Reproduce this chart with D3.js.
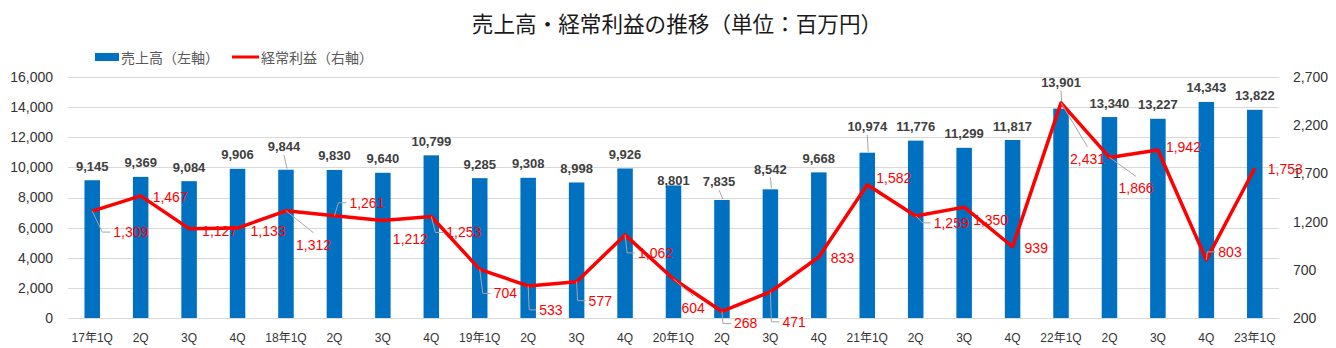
<!DOCTYPE html>
<html><head><meta charset="utf-8">
<script src="https://cdn.jsdelivr.net/npm/d3@7"></script>
<style>body{margin:0;background:#fff} svg{display:block}</style>
</head><body><svg id="c" width="1336" height="348"></svg>
<script>
const categories = ["17年1Q","2Q ","3Q ","4Q ","18年1Q","2Q  ","3Q  ","4Q  ","19年1Q","2Q   ","3Q   ","4Q   ","20年1Q","2Q    ","3Q    ","4Q    ","21年1Q","2Q     ","3Q     ","4Q     ","22年1Q","2Q      ","3Q      ","4Q      ","23年1Q"];
const sales = [9145,9369,9084,9906,9844,9830,9640,10799,9285,9308,8998,9926,8801,7835,8542,9668,10974,11776,11299,11817,13901,13340,13227,14343,13822];
const profit = [1309,1467,1127,1133,1312,1261,1212,1253,704,533,577,1062,604,268,471,833,1582,1259,1350,939,2431,1866,1942,803,1753];
const leftTicks = [0,2000,4000,6000,8000,10000,12000,14000,16000];
const rightTicks = [200,700,1200,1700,2200,2700];
const titleText = "売上高・経常利益の推移（単位：百万円）";
const legendSales = "売上高（左軸）";
const legendProfit = "経常利益（右軸）";

// label layout (offsets in px): [dx, dy, leader]
const salesLabelLayout = {4:[-2,-9,1],12:[0,9,0],13:[-3,-4,1],14:[0,-6,1],16:[0,-12,1],20:[0,-12,1]};
const profitLabelLayout = [[21,21,'L'],[12,1,''],[13,2,''],[13,3,''],[10,34,'T'],[15,-13,'L'],[10,19,''],[15,16,'L'],[14,24,'L'],[11,24,'L'],[12,19,'L'],[13,18,'L'],[8,29,'T'],[12,12,'L'],[12,30,'L'],[12,1,''],[9,-7,''],[18,7,'L'],[9,13,''],[12,1,''],[9,56,'T'],[9,31,'T'],[8,-3,''],[12,-8,'L'],[13,1,'']];

const svg = d3.select("#c");
const X0=68, X1=1279, Y0=318, Y1=77;
const numFont = "'Liberation Sans', Arial, 'Noto Sans CJK JP', sans-serif";
const cjkFont = "'Noto Sans CJK JP', sans-serif";

const x = d3.scaleBand().domain(categories).range([X0,X1]).paddingInner(0.68).paddingOuter(0.34);
const yL = d3.scaleLinear().domain([0,16000]).range([Y0,Y1]);
const yR = d3.scaleLinear().domain([200,2700]).range([Y0,Y1]);
const cx = d => x(d) + x.bandwidth()/2;
const fmt = d3.format(",");

// title
svg.append("text").attr("x",677).attr("y",22).attr("text-anchor","middle").attr("dominant-baseline","central")
  .attr("font-family",cjkFont).attr("font-size",21.6).attr("fill","#1a1a1a").text(titleText);

// legend
svg.append("rect").attr("x",95).attr("y",53).attr("width",24).attr("height",8).attr("fill","#0070C0");
svg.append("text").attr("x",121).attr("y",57).attr("dominant-baseline","central").attr("font-family",cjkFont)
  .attr("font-size",14).attr("fill","#595959").text(legendSales);
svg.append("line").attr("x1",232).attr("x2",259).attr("y1",57).attr("y2",57).attr("stroke","#FF0000").attr("stroke-width",3);
svg.append("text").attr("x",261).attr("y",57).attr("dominant-baseline","central").attr("font-family",cjkFont)
  .attr("font-size",14).attr("fill","#595959").text(legendProfit);

// gridlines
svg.append("g").selectAll("line").data(leftTicks).join("line")
  .attr("x1",X0).attr("x2",X1).attr("y1",d=>Math.round(yL(d))+0.5).attr("y2",d=>Math.round(yL(d))+0.5)
  .attr("stroke","#d9d9d9").attr("stroke-width",1);

// axes
const gl = svg.append("g").attr("transform",`translate(${X0},0)`)
  .call(d3.axisLeft(yL).tickValues(leftTicks).tickFormat(fmt).tickSize(0).tickPadding(15));
const gr = svg.append("g").attr("transform",`translate(${X1},0)`)
  .call(d3.axisRight(yR).tickValues(rightTicks).tickFormat(fmt).tickSize(0).tickPadding(14));
const gb = svg.append("g").attr("transform",`translate(0,${Y0})`)
  .call(d3.axisBottom(x).tickSize(0).tickPadding(15).tickFormat(d=>d.trim()));
[gl,gr,gb].forEach(g=>{g.select(".domain").remove();});
gl.selectAll("text").attr("font-family",numFont).attr("font-size",14).attr("fill","#333");
gr.selectAll("text").attr("font-family",numFont).attr("font-size",14).attr("fill","#333");
gb.selectAll("text").attr("font-family",numFont).attr("font-size",12).attr("fill","#333");

// bars
svg.append("g").selectAll("rect").data(sales).join("rect")
  .attr("x",(d,i)=>x(categories[i])).attr("width",x.bandwidth())
  .attr("y",d=>yL(d)).attr("height",d=>Y0-yL(d)).attr("fill","#0070C0");

// sales labels + leaders
const gs = svg.append("g");
sales.forEach((v,i)=>{
  const L = salesLabelLayout[i] || [0,0,0];
  const bx = cx(categories[i]), by = yL(v);
  const lx = bx + L[0], ly = by - 14 + L[1];
  if (L[2]) gs.append("line").attr("x1",lx).attr("y1",ly+8).attr("x2",bx+1).attr("y2",by-1)
     .attr("stroke","#a6a6a6").attr("stroke-width",1);
  gs.append("text").attr("x",lx).attr("y",ly).attr("text-anchor","middle").attr("dominant-baseline","central")
    .attr("font-family",numFont).attr("font-size",13).attr("font-weight","bold").attr("fill","#404040").text(fmt(v));
});

// profit line
svg.append("path").datum(profit)
  .attr("d",d3.line().x((d,i)=>cx(categories[i])).y(d=>yR(d)))
  .attr("fill","none").attr("stroke","#FF0000").attr("stroke-width",3.5).attr("stroke-linejoin","round");

// profit labels + leaders
const gp = svg.append("g");
profit.forEach((v,i)=>{
  const L = profitLabelLayout[i];
  const px = cx(categories[i]), py = yR(v);
  const lx = px + L[0], ly = py + L[1];
  const t = gp.append("text").attr("x",lx).attr("y",ly).attr("dominant-baseline","central")
    .attr("font-family",numFont).attr("font-size",14).attr("fill","#FF0000").text(fmt(v));
  const w = t.node().getComputedTextLength();
  let pts = null;
  if (L[2]==='L') { const c = px + Math.max(1, L[0]-11); pts = [[px,py],[c,ly],[lx-3,ly]]; }
  if (L[2]==='T') { pts = [[px,py],[lx+w/2,ly-12]]; }
  if (pts) gp.insert("path",":first-child").attr("d",d3.line()(pts)).attr("fill","none").attr("stroke","#a6a6a6").attr("stroke-width",1);
});
</script></body></html>
